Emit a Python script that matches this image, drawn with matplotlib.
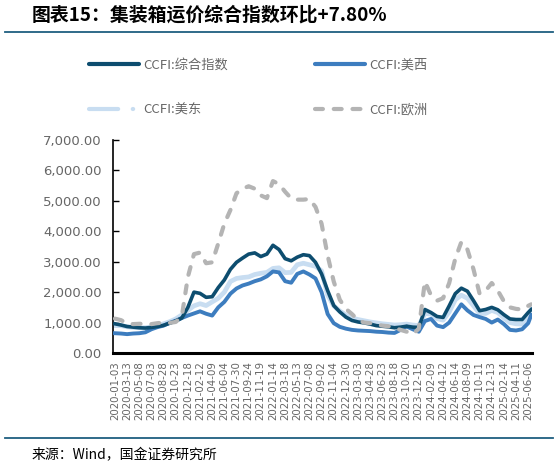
import matplotlib
matplotlib.use("Agg")
import matplotlib.pyplot as plt
from matplotlib.lines import Line2D

plt.rcParams['font.family'] = ['Noto Sans CJK SC', 'DejaVu Sans']

# 数据: 周度类目轴, 每4周取一个点 (最后一点为最新一周)
week_idx = list(range(0, 273, 4)) + [274]

ccfi_all = [960, 920, 870, 850, 830, 820, 840, 870, 910, 980, 1050, 1150, 1500, 2000,
            1960, 1830, 1850, 2150, 2400, 2750, 2980, 3120, 3250, 3290, 3170, 3250, 3540,
            3400, 3100, 3030, 3150, 3230, 3200, 2980, 2600, 2050, 1560, 1350, 1180, 1070,
            1020, 990, 950, 900, 880, 860, 830, 850, 880, 850, 840, 1430, 1330, 1200, 1170,
            1550, 1950, 2130, 2030, 1720, 1390, 1430, 1500, 1420, 1260, 1120, 1100, 1100,
            1330, 1430]
ccfi_usw = [650, 640, 620, 640, 650, 680, 780, 850, 900, 990, 1060, 1150, 1230, 1300,
            1370, 1290, 1230, 1500, 1680, 1950, 2120, 2220, 2280, 2360, 2420, 2520, 2680,
            2650, 2360, 2310, 2600, 2680, 2580, 2450, 2000, 1280, 980, 860, 800, 760, 740,
            730, 720, 700, 690, 670, 660, 760, 870, 780, 700, 1050, 1120, 900, 850, 1000,
            1300, 1600, 1400, 1250, 1180, 1120, 1000, 1100, 950, 760, 740, 780, 980, 1250]
ccfi_use = [900, 900, 860, 840, 830, 830, 860, 900, 960, 1030, 1120, 1250, 1400, 1550,
            1620, 1560, 1680, 1800, 2000, 2350, 2450, 2480, 2500, 2580, 2620, 2650, 2780,
            2800, 2640, 2650, 2900, 2950, 2900, 2850, 2700, 1900, 1550, 1380, 1250, 1150,
            1100, 1060, 1020, 990, 960, 940, 920, 930, 950, 920, 900, 1300, 1280, 1130, 1080,
            1350, 1750, 1900, 1800, 1550, 1300, 1300, 1400, 1330, 1150, 1000, 960, 950,
            1150, 1450]
ccfi_eu = [1130, 1080, 970, 950, 960, 960, 950, 980, 1000, 990, 1020, 1200, 2500, 3250,
           3300, 2950, 2980, 3600, 4250, 4700, 5250, 5400, 5480, 5400, 5180, 5090, 5650,
           5550, 5300, 5080, 5040, 5040, 5060, 4800, 4250, 3200, 2350, 1750, 1450, 1280,
           1080, 1000, 980, 940, 900, 880, 820, 760, 700, 620, 800, 2350, 1900, 1720, 1800,
           2300, 3100, 3650, 3400, 2750, 1950, 2050, 2300, 2050, 1700, 1500, 1450, 1430,
           1550, 1600]

tick_dates = ['2020-01-03', '2020-03-13', '2020-05-08', '2020-07-03', '2020-08-28',
              '2020-10-23', '2020-12-18', '2021-02-12', '2021-04-09', '2021-06-04',
              '2021-07-30', '2021-09-24', '2021-11-19', '2022-01-14', '2022-03-18',
              '2022-05-13', '2022-07-08', '2022-09-02', '2022-11-04', '2022-12-30',
              '2023-03-03', '2023-04-28', '2023-06-23', '2023-08-18', '2023-10-20',
              '2023-12-15', '2024-02-09', '2024-04-12', '2024-06-14', '2024-08-09',
              '2024-10-11', '2024-12-13', '2025-02-14', '2025-04-11', '2025-06-06']
tick_pos = [8 * k for k in range(len(tick_dates))]
y_ticks = [0, 1000, 2000, 3000, 4000, 5000, 6000, 7000]

c_all = '#0d4d6f'
c_usw = '#3d7dbf'
c_use = '#c8ddf1'
c_eu = '#b4b4b4'
c_txt = '#666666'

fig = plt.figure(figsize=(5.59, 4.67), dpi=100)
ax = fig.add_axes([0.2021, 0.2441, 0.7496, 0.4561])

# 画线
ax.plot(week_idx, ccfi_use, color=c_use, lw=3.4, zorder=2)
ax.plot(week_idx, ccfi_usw, color=c_usw, lw=2.8, zorder=3)
ax.plot(week_idx, ccfi_all, color=c_all, lw=2.6, zorder=4)
ax.plot(week_idx, ccfi_eu, color=c_eu, lw=3.0,
        linestyle=(0, (1.9, 2.6)), dash_capstyle='round', zorder=5)

ax.set_xlim(-1.3, 274.5)
ax.set_ylim(0, 7000)
ax.set_yticks(y_ticks)
ax.set_yticklabels([f'{v:,.2f}' for v in y_ticks], fontfamily='DejaVu Sans',
                   fontsize=9.5, color=c_txt)
ax.set_xticks(tick_pos)
ax.set_xticklabels(tick_dates, rotation=90, fontfamily='DejaVu Sans',
                   fontsize=7.4, color=c_txt)
ax.tick_params(axis='y', direction='in', length=4, width=1, pad=8)
ax.tick_params(axis='x', length=0, pad=6)

for s in ['top', 'right']:
    ax.spines[s].set_visible(False)
ax.spines['left'].set_linewidth(1.2)
ax.spines['bottom'].set_linewidth(2.2)

# 图例 (按列填充: 左列 综合/美东, 右列 美西/欧洲)
handles = [
    Line2D([], [], color=c_all, lw=3.0, solid_capstyle='round'),
    Line2D([], [], color=c_use, lw=3.0, linestyle=(0, (7, 3.5, 0.1, 3.5)),
           dash_capstyle='round'),
    Line2D([], [], color=c_usw, lw=3.0, solid_capstyle='round'),
    Line2D([], [], color=c_eu, lw=3.0, linestyle=(0, (1.9, 2.6)), dash_capstyle='round'),
]
labels = ['CCFI:综合指数', 'CCFI:美东', 'CCFI:美西', 'CCFI:欧洲']
fig.legend(handles, labels, ncol=2, frameon=False,
           loc='upper left', bbox_to_anchor=(89 / 559, 1 - 59 / 467),
           borderpad=0, borderaxespad=0, handlelength=3.8, handletextpad=0.3,
           columnspacing=6.6, labelspacing=2.4, fontsize=9.5, labelcolor=c_txt)

# 标题与来源
fig.text(32 / 559, 1 - 15 / 467, '图表15：集装箱运价综合指数环比+7.80%', fontsize=13.6,
         fontweight='bold', va='center', ha='left')
fig.add_artist(Line2D([5 / 559, 553 / 559], [1 - 32 / 467, 1 - 32 / 467],
                      color='#1f5f80', lw=1.3))
fig.add_artist(Line2D([5 / 559, 553 / 559], [1 - 438 / 467, 1 - 438 / 467],
                      color='#1f5f80', lw=1.3))
fig.text(32 / 559, 1 - 455 / 467, '来源：Wind，国金证券研究所', fontsize=10,
         va='center', ha='left')

fig.savefig('out.png', dpi=100)
